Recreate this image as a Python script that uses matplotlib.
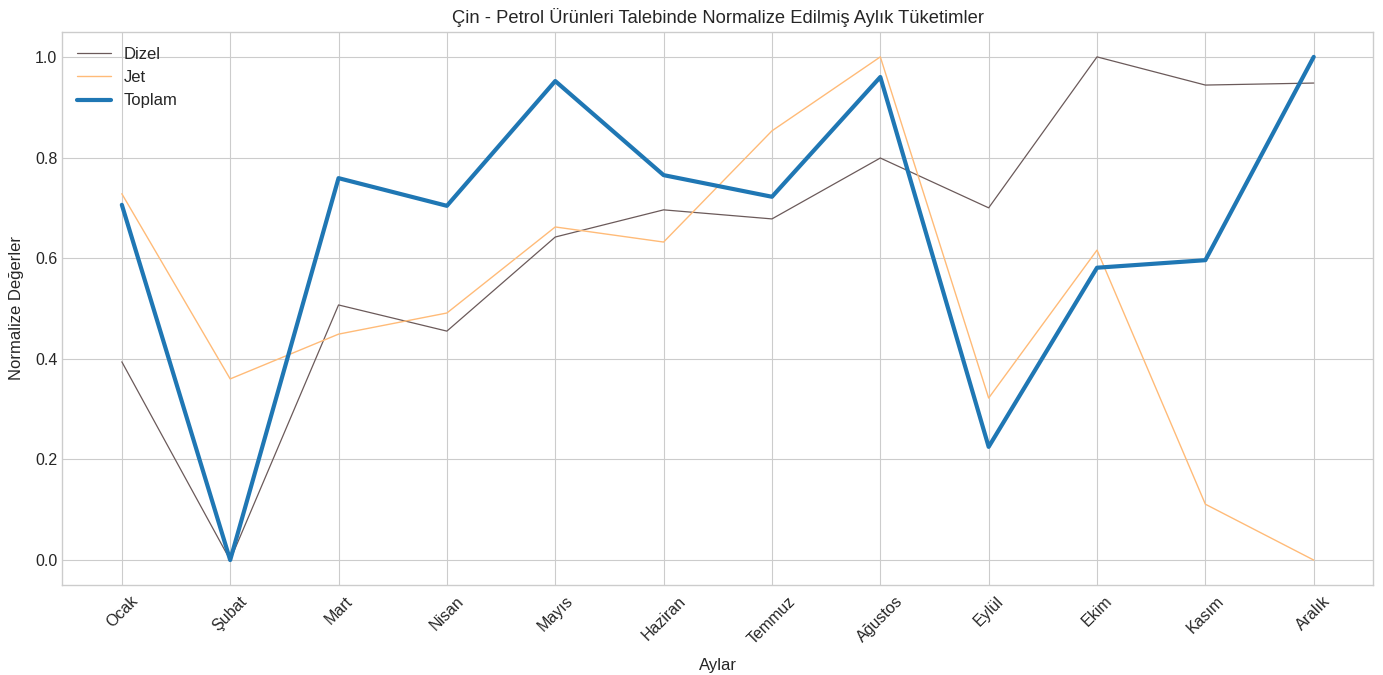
import matplotlib
matplotlib.use("Agg")
import matplotlib.pyplot as plt

# Veriler
aylar = ["Ocak", "Şubat", "Mart", "Nisan", "Mayıs", "Haziran",
         "Temmuz", "Ağustos", "Eylül", "Ekim", "Kasım", "Aralık"]
dizel = [0.394, 0.0, 0.507, 0.455, 0.642, 0.696, 0.678, 0.799, 0.700, 1.0, 0.944, 0.948]
jet = [0.728, 0.360, 0.449, 0.491, 0.662, 0.632, 0.853, 1.0, 0.322, 0.616, 0.111, 0.0]
toplam = [0.706, 0.0, 0.759, 0.704, 0.952, 0.765, 0.722, 0.960, 0.225, 0.581, 0.596, 1.0]

plt.style.use("seaborn-v0_8-whitegrid")
plt.rcParams['font.family'] = ['Liberation Sans', 'DejaVu Sans']

fig, ax = plt.subplots(figsize=(13.83, 6.75), dpi=100)
fig.subplots_adjust(left=0.045, right=0.993, top=0.953, bottom=0.133)

ax.plot(aylar, dizel, color='#6b5a5a', linewidth=0.9, label='Dizel')
ax.plot(aylar, jet, color='#ffbb78', linewidth=1.0, label='Jet')
ax.plot(aylar, toplam, color='#1f77b4', linewidth=3, label='Toplam')

ax.set_title('Çin - Petrol Ürünleri Talebinde Normalize Edilmiş Aylık Tüketimler',
             fontsize=13.2, color='#262626')
ax.set_xlabel('Aylar', fontsize=12, color='#262626', labelpad=8)
ax.set_ylabel('Normalize Değerler', fontsize=12, color='#262626', labelpad=8)
ax.tick_params(axis='x', labelrotation=45, labelsize=11.5, colors='#262626', pad=6)
ax.tick_params(axis='y', labelsize=11.5, colors='#262626')
for spine in ax.spines.values():
    spine.set_visible(True)
    spine.set_color('#cccccc')
ax.legend(loc='upper left', fontsize=12, frameon=False)

plt.savefig('out.png', dpi=100)
